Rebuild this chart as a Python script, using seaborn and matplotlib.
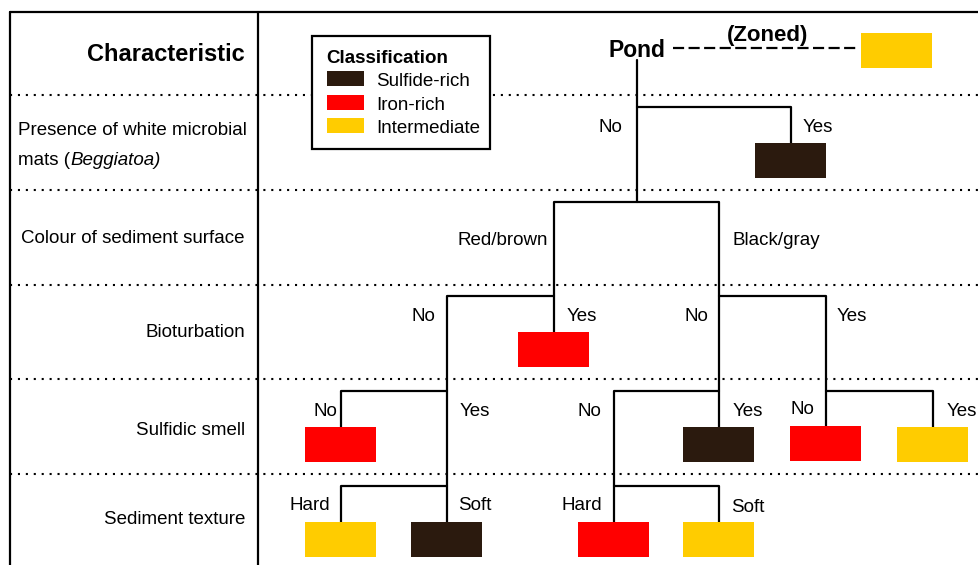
import matplotlib.pyplot as plt
import pandas as pd
import seaborn as sns
from matplotlib.patches import Rectangle

# classes and their colours
classes = ['Sulfide-rich', 'Iron-rich', 'Intermediate']
class_colors = ['#2b1a0e', '#ff0000', '#ffcc00']

# left column: characteristics (one per dotted band)
row_names = ['Colour of sediment surface', 'Bioturbation', 'Sulfidic smell', 'Sediment texture']
row_y = [236, 330, 428, 517]
band_edges = [95, 190, 285, 379, 474]

# terminal boxes of the key (center x, top y, class)
leaf_x = [897, 791, 554, 341, 719, 826, 933, 341, 447, 614, 719]
leaf_top = [33, 143, 332, 427, 427, 426, 427, 522, 522, 522, 522]
leaf_class = ['Intermediate', 'Sulfide-rich', 'Iron-rich', 'Iron-rich', 'Sulfide-rich', 'Iron-rich',
              'Intermediate', 'Intermediate', 'Sulfide-rich', 'Iron-rich', 'Intermediate']

# branches of the key as polylines
edges = [
    [(637, 60), (637, 202)],
    [(637, 107), (791, 107), (791, 143)],
    [(554, 332), (554, 202), (719, 202), (719, 427)],
    [(447, 522), (447, 296), (554, 296)],
    [(719, 296), (826, 296), (826, 426)],
    [(341, 427), (341, 391), (447, 391)],
    [(614, 522), (614, 391), (719, 391)],
    [(826, 391), (933, 391), (933, 427)],
    [(341, 522), (341, 486), (447, 486)],
    [(614, 486), (719, 486), (719, 522)],
]

# answers written next to the branches
answer_text = ['No', 'Yes', 'Red/brown', 'Black/gray',
               'No', 'Yes', 'No', 'Yes',
               'No', 'Yes', 'No', 'Yes', 'No', 'Yes',
               'Hard', 'Soft', 'Hard', 'Soft']
answer_x = [610, 818, 503, 776,
            423, 582, 696, 852,
            325, 475, 589, 748, 802, 962,
            310, 475, 582, 748]
answer_y = [125, 125, 238, 238,
            314, 314, 314, 314,
            409, 409, 409, 409, 407, 409,
            503, 503, 503, 505]

sns.set_theme(style='white')
plt.rcParams['font.family'] = ['Liberation Sans', 'DejaVu Sans']
plt.rcParams['text.color'] = 'black'

fig = plt.figure(figsize=(9.79, 5.65), dpi=100)
ax = fig.add_axes([0, 0, 1, 1])

fs = 13.5
lw = 1.6
dy = 2.5  # nudge text so the letters sit centred like the original

# table frame
ax.plot([10, 979], [12, 12], color='black', lw=lw, zorder=3)
ax.plot([10, 10], [12, 565], color='black', lw=lw, zorder=3)
ax.plot([258, 258], [12, 565], color='black', lw=lw, zorder=3)
for y in band_edges:
    ax.plot([10, 979], [y, y], color='black', lw=1.5, ls=(0, (1, 2.8)), zorder=1)

# row labels
ax.text(245, 52 + dy, 'Characteristic', ha='right', va='center', fontsize=17, fontweight='bold')
ax.text(18, 128 + dy, 'Presence of white microbial', ha='left', va='center', fontsize=fs)
t = ax.text(18, 158 + dy, 'mats (', ha='left', va='center', fontsize=fs)
ax.annotate('Beggiatoa)', xy=(1, 0), xycoords=t, va='bottom', ha='left',
            fontsize=fs, style='italic')
for name, y in zip(row_names, row_y):
    ax.text(245, y + dy, name, ha='right', va='center', fontsize=fs)

# tree branches
df = pd.DataFrame([(i, k, x, y) for i, e in enumerate(edges) for k, (x, y) in enumerate(e)],
                  columns=['edge', 'order', 'x', 'y'])
sns.lineplot(data=df, x='x', y='y', units='edge', estimator=None, sort=False,
             color='black', lw=lw, legend=False, ax=ax, zorder=4)

# root and zoned shortcut
ax.text(637, 48 + dy, 'Pond', ha='center', va='center', fontsize=16.5, fontweight='bold', zorder=5)
ax.plot([673, 857], [48, 48], color='black', lw=lw, ls=(0, (5, 2)), zorder=4)
ax.text(768, 33 + dy, '(Zoned)', ha='center', va='center', fontsize=16, fontweight='bold')

for txt, x, y in zip(answer_text, answer_x, answer_y):
    ax.text(x, y + dy, txt, ha='center', va='center', fontsize=fs)

# classification boxes
cmap = dict(zip(classes, class_colors))
ax.bar(leaf_x, 35, bottom=leaf_top, width=71, color=[cmap[c] for c in leaf_class],
       edgecolor='none', zorder=6)

# legend
ax.add_patch(Rectangle((312, 36), 178, 113, facecolor='white', edgecolor='black', lw=lw, zorder=5))
ax.text(326, 56 + dy, 'Classification', ha='left', va='center', fontsize=fs, fontweight='bold', zorder=6)
sw_top = [71, 95, 118]
ax.bar([345.5] * 3, 15, bottom=sw_top, width=37, color=class_colors, edgecolor='none', zorder=6)
for name, y in zip(classes, sw_top):
    ax.text(376, y + 8 + dy, name, ha='left', va='center', fontsize=fs, zorder=6)

ax.set_xlim(0, 979)
ax.set_ylim(565, 0)
ax.axis('off')

fig.savefig('out.png', dpi=100)
